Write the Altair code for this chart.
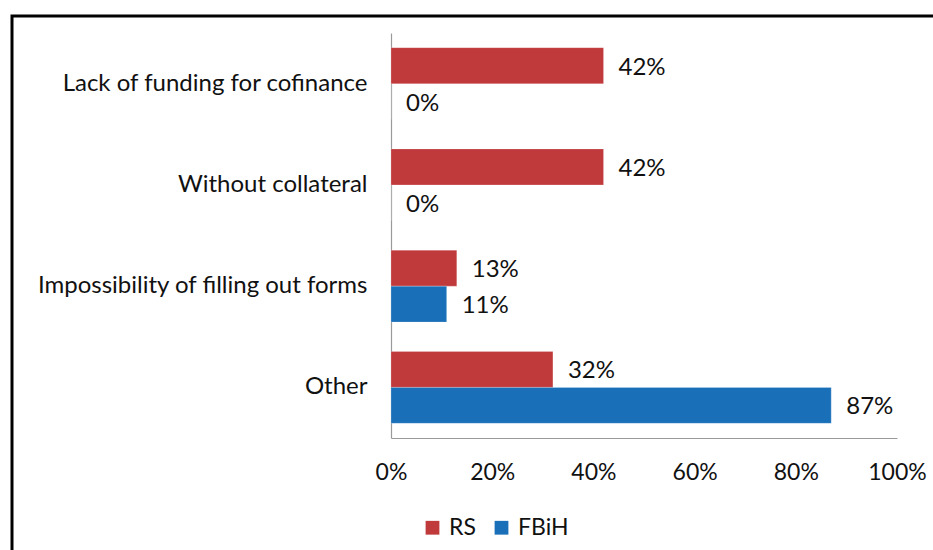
import altair as alt
import pandas as pd

# Survey answers: share of respondents per obstacle, by entity
categories = [
    "Lack of funding for cofinance",
    "Without collateral",
    "Impossibility of filling out forms",
    "Other",
]
series = ["RS", "FBiH"]
rs_values = [0.42, 0.42, 0.13, 0.32]
fbih_values = [0.00, 0.00, 0.11, 0.87]
x_ticks = [0, 0.2, 0.4, 0.6, 0.8, 1.0]

rows = []
for cat, rs, fb in zip(categories, rs_values, fbih_values):
    rows.append({"category": cat, "series": "RS", "value": rs})
    rows.append({"category": cat, "series": "FBiH", "value": fb})
df = pd.DataFrame(rows)

FONT = "Lato"
TEXT = "#111111"
colors = ["#C0393B", "#1A70B8"]

y_enc = alt.Y(
    "category:N",
    sort=categories,
    title=None,
    scale=alt.Scale(paddingInner=0.29, paddingOuter=0.145),
    axis=alt.Axis(
        ticks=False,
        labelFontSize=24,
        labelFont=FONT,
        labelColor=TEXT,
        labelPadding=24,
        domainColor="#9a9a9a",
        domainWidth=1.2,
        labelLimit=400,
    ),
)
yoff = alt.YOffset("series:N", sort=series, scale=alt.Scale(paddingInner=0))

bars = alt.Chart(df).mark_bar(stroke="#ffffff", strokeOpacity=0.35, strokeWidth=0.6).encode(
    x=alt.X(
        "value:Q",
        title=None,
        scale=alt.Scale(domain=[0, 1], nice=False),
        axis=alt.Axis(
            values=x_ticks,
            format=".0%",
            grid=False,
            ticks=False,
            labelFontSize=23,
            labelFont=FONT,
            labelColor=TEXT,
            labelPadding=23,
            domainColor="#9a9a9a",
            domainWidth=1.2,
            labelFlush=False,
        ),
    ),
    y=y_enc,
    yOffset=yoff,
    color=alt.Color(
        "series:N",
        sort=series,
        scale=alt.Scale(domain=series, range=colors),
        legend=alt.Legend(
            title=None,
            orient="none",
            direction="horizontal",
            legendX=30,
            legendY=483,
            symbolType="square",
            symbolSize=190,
            symbolStrokeWidth=0,
            labelFontSize=23,
            labelFont=FONT,
            labelColor=TEXT,
            columnPadding=14,
            labelOffset=5,
        ),
    ),
)

labels = alt.Chart(df).mark_text(
    align="left", baseline="middle", dx=15, dy=2, fontSize=24, font=FONT, color=TEXT
).encode(
    x="value:Q",
    y=alt.Y("category:N", sort=categories),
    yOffset=yoff,
    text=alt.Text("value:Q", format=".0%"),
)

# outer frame around the whole figure
frame = alt.Chart(alt.Data(values=[{}])).mark_rect(
    filled=False, stroke="#000000", strokeWidth=3
).encode(
    x=alt.value(-379),
    x2=alt.value(700),
    y=alt.value(-17),
    y2=alt.value(700),
)

chart = (
    alt.layer(bars, labels, frame)
    .properties(
        width=506,
        height=405,
        padding={"left": 391, "top": 33, "right": 36, "bottom": 112},
        autosize=alt.AutoSizeParams(type="none"),
        background="#ffffff",
    )
    .configure_view(stroke=None)
)

chart.save("out.html", embed_options={"renderer": "svg", "actions": False})
